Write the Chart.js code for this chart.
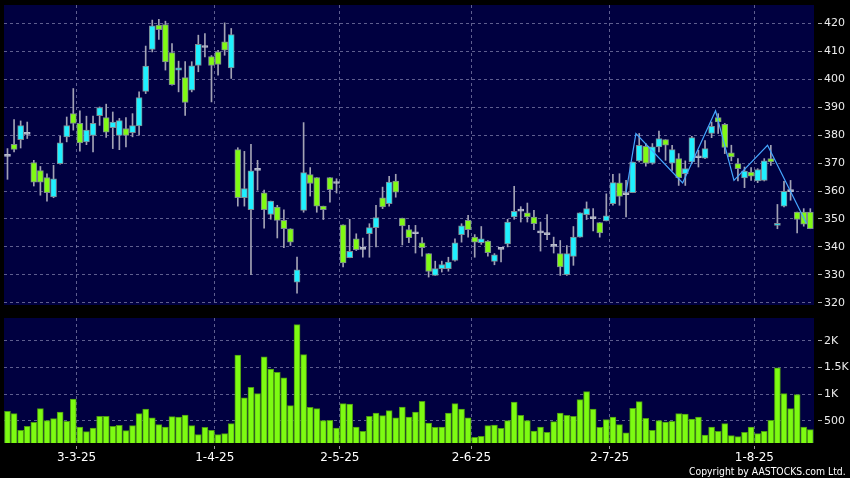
<!DOCTYPE html>
<html>
<head>
<meta charset="utf-8">
<title>Price and volume</title>
<script src="https://cdn.jsdelivr.net/npm/chart.js@4.4.1/dist/chart.umd.min.js"></script>
<style>
  html, body { margin: 0; padding: 0; background: #000; }
  #wrap { position: relative; width: 850px; height: 478px; overflow: hidden; background: #000; }
  #priceChart { position: absolute; left: 0; top: 0; }
  #volChart { position: absolute; left: 0; top: 310px; }
  #copy {
    position: absolute; right: 4px; top: 465px;
    font: 11px "DejaVu Sans Condensed", "DejaVu Sans", sans-serif; color: #fff; white-space: nowrap;
    transform: scaleX(0.94); transform-origin: right center;
  }
</style>
</head>
<body>
<div id="wrap">
  <canvas id="priceChart" width="850" height="310"></canvas>
  <canvas id="volChart" width="850" height="168"></canvas>
  <div id="copy">Copyright by AASTOCKS.com Ltd.</div>
</div>
<script>
// trading days shown (d-m-yy)
const dates = [
  '14-2-25','17-2-25','18-2-25','19-2-25','20-2-25','21-2-25','24-2-25','25-2-25','26-2-25','27-2-25','28-2-25',
  '3-3-25','4-3-25','5-3-25','6-3-25','7-3-25','10-3-25','11-3-25','12-3-25','13-3-25','14-3-25',
  '17-3-25','18-3-25','19-3-25','20-3-25','21-3-25','24-3-25','25-3-25','26-3-25','27-3-25','28-3-25','31-3-25',
  '1-4-25','2-4-25','3-4-25','7-4-25','8-4-25','9-4-25','10-4-25','11-4-25','14-4-25','15-4-25','16-4-25','17-4-25',
  '22-4-25','23-4-25','24-4-25','25-4-25','28-4-25','29-4-25','30-4-25',
  '2-5-25','6-5-25','7-5-25','8-5-25','9-5-25','12-5-25','13-5-25','14-5-25','15-5-25','16-5-25',
  '19-5-25','20-5-25','21-5-25','22-5-25','23-5-25','26-5-25','27-5-25','28-5-25','29-5-25','30-5-25',
  '2-6-25','3-6-25','4-6-25','5-6-25','6-6-25','9-6-25','10-6-25','11-6-25','12-6-25','13-6-25',
  '16-6-25','17-6-25','18-6-25','19-6-25','20-6-25','23-6-25','24-6-25','25-6-25','26-6-25','27-6-25','30-6-25',
  '2-7-25','3-7-25','4-7-25','7-7-25','8-7-25','9-7-25','10-7-25','11-7-25','14-7-25','15-7-25','16-7-25','17-7-25','18-7-25',
  '21-7-25','22-7-25','23-7-25','24-7-25','25-7-25','28-7-25','29-7-25','30-7-25','31-7-25',
  '1-8-25','4-8-25','5-8-25','6-8-25','7-8-25','8-8-25','11-8-25','12-8-25','13-8-25'
];

const opens = [
  372.4,376.7,378.4,380.3,370.2,367.3,364.8,357.9,369.8,379.4,387.7,
  384.2,377.6,379.9,387.0,386.3,382.7,379.9,382.4,380.9,383.3,
  395.7,410.7,419.4,419.6,409.6,403.3,400.6,396.1,405.0,411.4,408.1,
  409.8,413.4,404.1,374.8,357.6,353.3,367.4,359.4,351.6,354.3,349.5,346.5,
  327.4,353.1,365.9,364.8,354.6,364.8,362.7,
  347.9,336.1,342.9,339.1,344.7,346.9,357.6,355.5,363.6,350.3,
  346.2,344.7,341.5,337.6,329.8,332.2,332.2,335.2,344.4,349.5,
  343.5,341.5,342.1,334.8,339.1,341.1,350.7,352.8,352.2,350.7,
  345.0,344.4,340.2,337.6,330.1,336.6,343.5,351.5,350.1,348.7,349.3,
  355.5,362.9,358.7,359.4,370.8,376.0,370.0,375.8,378.4,370.0,371.6,366.2,370.4,
  371.9,371.8,380.6,386.3,383.9,373.7,369.8,364.7,366.8,
  363.6,363.8,371.6,347.7,354.6,359.8,352.5,352.5,352.5
];
const highs = [
  375.2,385.6,385.1,384.7,371.0,368.8,366.2,369.2,379.6,386.5,396.7,
  388.7,386.8,386.8,390.1,391.1,388.3,386.0,386.3,387.7,395.5,
  411.9,421.2,421.5,420.8,412.8,406.5,406.3,406.3,415.8,416.4,408.5,
  410.4,420.2,418.2,375.5,374.2,376.7,371.0,360.3,356.4,354.9,353.3,346.5,
  336.4,384.5,368.4,364.8,354.6,364.8,364.4,
  347.9,349.9,344.7,343.2,348.3,354.9,361.4,365.3,366.0,350.3,
  347.7,347.7,343.3,337.6,334.9,334.9,336.3,342.9,348.3,351.3,
  344.4,347.3,342.3,337.6,339.4,349.9,361.7,354.4,355.7,353.1,
  348.9,351.6,343.5,342.3,340.5,347.3,352.2,356.1,353.7,348.7,359.0,
  366.0,366.2,363.8,370.4,380.6,377.0,377.0,381.5,378.4,376.4,373.4,370.8,379.6,
  374.6,378.1,384.7,387.7,384.2,376.4,371.6,368.6,368.4,
  368.0,371.6,376.4,355.2,363.5,363.8,352.5,353.7,353.7
];
const lows = [
  364.2,374.0,375.4,378.8,361.8,358.5,356.4,357.6,369.6,377.6,381.8,
  374.3,376.6,374.0,383.5,379.2,375.2,374.8,375.8,379.4,380.0,
  394.9,409.8,414.3,403.3,397.9,395.5,387.1,395.5,402.7,408.0,391.9,
  401.5,408.6,400.3,354.6,354.6,330.1,360.3,346.7,349.9,343.2,339.7,340.5,
  323.4,352.4,358.2,352.4,349.8,356.0,359.3,
  332.8,336.1,338.7,336.3,336.3,340.0,353.7,354.6,357.8,340.7,
  341.5,337.8,336.7,329.2,329.8,331.0,331.3,334.9,341.7,343.5,
  336.3,340.9,336.7,333.6,334.6,340.0,349.9,348.9,348.9,346.2,
  338.5,342.6,337.8,329.8,329.8,333.4,343.5,349.8,345.7,343.5,349.3,
  354.9,354.9,350.7,359.4,370.4,368.9,369.6,374.0,371.0,367.4,362.0,362.0,369.8,
  368.6,371.6,379.1,380.6,373.4,370.8,363.6,361.2,363.8,
  363.0,363.6,369.2,346.5,354.3,356.7,345.0,347.4,346.5
];
const closes = [
  372.4,374.9,383.4,380.3,363.2,363.2,359.4,364.4,377.3,383.4,384.2,
  377.2,381.8,384.2,389.9,381.1,384.7,385.2,379.9,383.4,393.5,
  404.7,419.1,417.8,406.2,398.1,404.1,391.7,404.8,412.5,411.4,405.0,
  405.3,410.4,416.0,357.6,360.9,367.2,367.4,353.3,356.4,349.5,346.5,341.7,
  331.8,366.6,362.7,354.6,353.3,360.5,362.7,
  334.3,338.4,339.0,339.1,346.9,350.5,354.3,363.2,359.6,347.5,
  343.3,344.7,339.7,331.2,332.2,333.7,334.6,341.5,347.5,346.2,
  341.7,342.9,337.9,337.2,339.1,348.9,352.7,352.8,350.7,348.3,
  345.0,344.4,340.2,332.8,337.6,343.5,352.2,353.7,350.1,345.0,351.1,
  363.0,358.1,358.7,370.4,376.4,370.0,375.8,378.8,376.4,374.8,364.8,368.0,379.1,
  371.9,375.2,383.2,384.7,375.6,372.2,368.0,367.1,365.3,
  367.7,370.8,370.4,348.3,359.9,359.8,349.8,348.1,346.5
];
const volumes = [
  675,632,318,393,468,726,500,538,663,487,908,
  381,293,362,581,581,393,412,312,406,632,
  720,551,425,381,575,569,607,406,237,375,318,
  237,256,444,1735,927,1126,1008,1698,1472,1408,1303,782,
  2305,1741,750,726,500,506,362,
  820,814,381,299,581,644,594,688,551,757,
  569,663,863,456,375,381,644,820,720,551,
  187,205,406,419,356,500,851,600,500,306,
  381,281,481,644,600,581,895,1045,720,375,519,
  569,425,269,732,857,544,318,500,475,487,632,625,531,
  569,231,381,299,444,218,199,281,381,
  256,299,506,1491,1008,726,989,381,331
];

// blue pattern line drawn over the price panel (x = bar index)
const trendX = [94, 95.5, 102.6, 107.6, 110.4, 115.5, 121.4];
const trendY = [359.5, 380.6, 362.9, 388.7, 363.8, 376.4, 348.5];

const dateLabels = ['3-3-25', '1-4-25', '2-5-25', '2-6-25', '2-7-25', '1-8-25'];
const priceTicks = [320, 330, 340, 350, 360, 370, 380, 390, 400, 410, 420];
const volTicks = [500, 1000, 1500, 2000];
const volTickText = ['500', '1K', '1.5K', '2K'];

const UP = '#1ff0ff';
const DOWN = '#80fa14';
const FLAT = '#b8bccb';
const GRID = 'rgba(125,125,170,0.75)';

Chart.defaults.font.family = '"DejaVu Sans", sans-serif';
Chart.defaults.font.size = 11;
Chart.defaults.color = '#ececec';

const plotBg = {
  id: 'plotBg',
  beforeDraw(chart) {
    const { ctx, chartArea: a } = chart;
    ctx.save();
    ctx.fillStyle = '#000040';
    ctx.fillRect(a.left, a.top, a.right - a.left, a.bottom - a.top);
    ctx.restore();
  }
};

// labels never sit at the axis ends, so drop the edge padding chart.js reserves for them
function noEdgePad(s) {
  s.paddingTop = 0;
  s.paddingBottom = 0;
  s.paddingLeft = 0;
  s.paddingRight = 0;
}

function xAxis(showLabels) {
  return {
    type: 'linear',
    min: -0.53,
    max: 122.56,
    offset: false,
    afterBuildTicks: s => { s.ticks = dateLabels.map(l => ({ value: dates.indexOf(l) - 0.5 })); },
    afterFit: s => { s.height = showLabels ? 35 : 0; noEdgePad(s); },
    grid: {
      offset: false,
      color: GRID,
      drawTicks: showLabels,
      tickLength: 6,
      tickColor: '#9a9a9a',
      tickBorderDash: [0, 3, 3, 20]
    },
    border: { display: false, dash: [3, 3] },
    ticks: {
      display: showLabels,
      autoSkip: false,
      maxRotation: 0,
      padding: 2,
      font: { size: 12 },
      color: '#ffffff',
      callback: v => dates[Math.round(v + 0.5)]
    }
  };
}

function yAxis(min, max, values, fmt) {
  return {
    position: 'right',
    min: min,
    max: max,
    afterBuildTicks: s => { s.ticks = values.map(v => ({ value: v })); },
    afterFit: s => { s.width = 36; noEdgePad(s); },
    grid: {
      color: GRID,
      drawTicks: true,
      tickLength: 8,
      tickColor: '#b0b0b0',
      tickBorderDash: [0, 4, 4, 30]
    },
    border: { display: false, dash: [3, 3] },
    ticks: { padding: 2, callback: fmt }
  };
}

const dirColor = i => closes[i] > opens[i] ? UP : (closes[i] < opens[i] ? DOWN : FLAT);

new Chart(document.getElementById('priceChart'), {
  type: 'bar',
  data: {
    datasets: [
      {
        type: 'line',
        data: trendX.map((x, k) => ({ x: x, y: trendY[k] })),
        borderColor: '#45a6ff',
        borderWidth: 1.2,
        pointRadius: 0,
        tension: 0,
        order: 0
      },
      {
        data: dates.map((d, i) => ({ x: i, y: [Math.min(opens[i], closes[i]), Math.max(opens[i], closes[i])] })),
        backgroundColor: ctx => dirColor(ctx.dataIndex),
        borderColor: ctx => closes[ctx.dataIndex] === opens[ctx.dataIndex] ? FLAT : '#7d8a92',
        borderWidth: 1,
        borderSkipped: false,
        barThickness: 6,
        minBarLength: 2,
        grouped: false,
        order: 1
      },
      {
        data: dates.map((d, i) => ({ x: i, y: [lows[i], highs[i]] })),
        backgroundColor: '#a2a2b4',
        borderWidth: 0,
        barThickness: 1,
        grouped: false,
        order: 2
      }
    ]
  },
  options: {
    responsive: false,
    animation: false,
    layout: { padding: { left: 4, top: 5, bottom: 5, right: 0 } },
    plugins: { legend: { display: false }, tooltip: { enabled: false } },
    scales: {
      x: xAxis(false),
      y: yAxis(319.2, 426.6, priceTicks, v => String(v))
    }
  },
  plugins: [plotBg]
});

new Chart(document.getElementById('volChart'), {
  type: 'bar',
  data: {
    datasets: [{
      data: dates.map((d, i) => ({ x: i, y: volumes[i] })),
      backgroundColor: '#7dfb12',
      borderColor: '#4c9a12',
      borderWidth: 1,
      borderSkipped: false,
      barThickness: 6,
      grouped: false
    }]
  },
  options: {
    responsive: false,
    animation: false,
    layout: { padding: { left: 4, top: 8, bottom: 0, right: 0 } },
    plugins: { legend: { display: false }, tooltip: { enabled: false } },
    scales: {
      x: xAxis(true),
      y: yAxis(80, 2430, volTicks, v => volTickText[volTicks.indexOf(v)])
    }
  },
  plugins: [plotBg]
});
</script>
</body>
</html>
